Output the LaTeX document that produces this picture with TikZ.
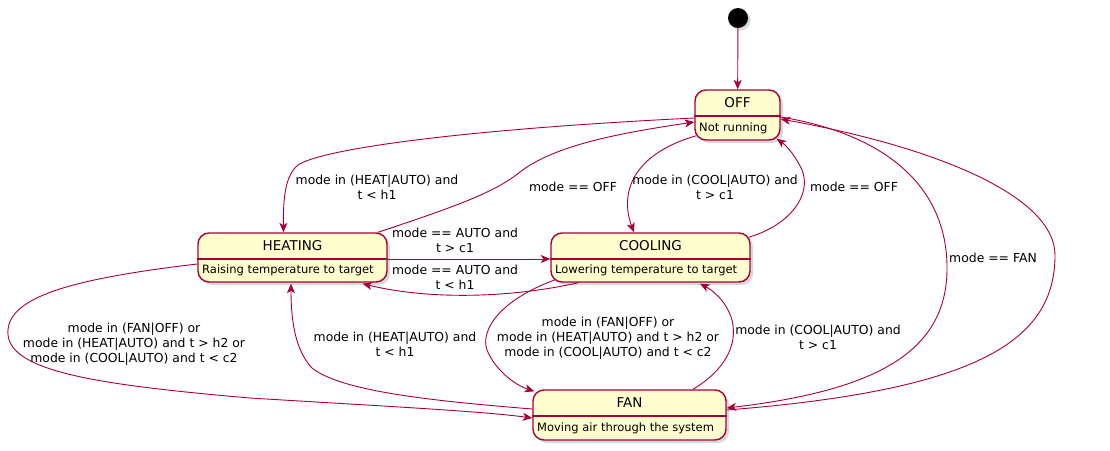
\documentclass[tikz,border=0pt]{standalone}
\usepackage{fontspec}
\setmainfont{DejaVu Sans}
\usetikzlibrary{arrows.meta,shadows,calc}
\definecolor{stfill}{HTML}{FEFECE}
\definecolor{stline}{HTML}{A80036}
\begin{document}
\begin{tikzpicture}[x=1pt,y=-1pt,
  state/.style={draw=stline, fill=stfill, line width=1.4pt, rounded corners=11pt,
    drop shadow={opacity=0.3, shadow xshift=3pt, shadow yshift=-3pt}, inner sep=0pt},
  divider/.style={draw=stline, line width=1.1pt},
  sttitle/.style={font=\fontsize{13.5}{15}\selectfont, inner sep=0pt},
  stdesc/.style={font=\fontsize{11.5}{13}\selectfont, inner sep=0pt, anchor=west},
  lbl/.style={font=\fontsize{12.4}{15}\selectfont, align=center, inner sep=0pt},
  tr/.style={draw=stline, line width=0.9pt, -{Stealth[length=9.5pt,width=8pt,inset=2.5pt]}}
]
\useasboundingbox (0,0) rectangle (1110,450);

% initial state
\node[circle, fill=black, minimum size=20pt, inner sep=0pt,
  drop shadow={opacity=0.3, shadow xshift=2.5pt, shadow yshift=-2.5pt}] (init) at (738,18) {};

% OFF
\node[state, minimum width=85pt, minimum height=50pt] (off) at (737.5,115) {};
\draw[divider] ([yshift=-1pt]off.west) -- ([yshift=-1pt]off.east);
\node[sttitle] (offT) at (737.5,103) {OFF};
\node[stdesc] (offD) at (699,128) {Not running};

% HEATING
\node[state, minimum width=189pt, minimum height=49pt] (heat) at (292.5,257.5) {};
\draw[divider] ([yshift=-1.5pt]heat.west) -- ([yshift=-1.5pt]heat.east);
\node[sttitle] (heatT) at (292.5,246) {HEATING};
\node[stdesc] (heatD) at (202,270.5) {Raising temperature to target};

% COOLING
\node[state, minimum width=199pt, minimum height=49pt] (cool) at (650.5,257.5) {};
\draw[divider] ([yshift=-1.5pt]cool.west) -- ([yshift=-1.5pt]cool.east);
\node[sttitle] (coolT) at (650.5,246) {COOLING};
\node[stdesc] (coolD) at (555,270.5) {Lowering temperature to target};

% FAN
\node[state, minimum width=193pt, minimum height=50pt] (fan) at (629.5,415) {};
\draw[divider] ([yshift=-1pt]fan.west) -- ([yshift=-1pt]fan.east);
\node[sttitle] (fanT) at (629.5,403) {FAN};
\node[stdesc] (fanD) at (537,428) {Moving air through the system};

% transitions
\draw[tr] (init) -- (off);

% OFF -> HEATING
\draw[tr] ([yshift=-3pt]off.west) .. controls (450,130) and (320,150) .. (298,165)
  .. controls (286,175) and (283,195) .. ([xshift=-9pt]heat.north);
% HEATING -> OFF
\draw[tr] ([xshift=85.5pt]heat.north) .. controls (460,205) and (495,192) .. (520,172)
  .. controls (555,145) and (620,133) .. ([yshift=-7pt]off.west);
% OFF -> COOLING
\draw[tr] ([xshift=2pt,yshift=5pt]off.south west) .. controls (630,155) and (620,195) .. ([xshift=-16.5pt]cool.north);
% COOLING -> OFF
\draw[tr] ([xshift=-2pt,yshift=-5pt]cool.north east) .. controls (790,225) and (812,195) .. (802,170)
  .. controls (796,157) and (788,147) .. ([xshift=-4pt,yshift=2pt]off.south east);
% HEATING -> COOLING
\draw[tr] ([yshift=-1.5pt]heat.east) -- ([yshift=-1.5pt]cool.west);
% COOLING -> HEATING
\draw[tr] ([xshift=-72pt]cool.south) .. controls (510,298) and (430,300) .. ([xshift=70pt,yshift=-1pt]heat.south);
% HEATING -> FAN
\draw[tr] ([yshift=-6.5pt]heat.west) .. controls (60,280) and (5,300) .. (8,335)
  .. controls (12,372) and (100,385) .. (250,398)
  .. controls (380,406) and (480,411) .. ([yshift=-3pt]fan.west);
% FAN -> HEATING
\draw[tr] ([yshift=6pt]fan.west) .. controls (420,400) and (340,390) .. (312,368)
  .. controls (295,350) and (291,320) .. ([xshift=-1.5pt,yshift=-1pt]heat.south);
% COOLING -> FAN
\draw[tr] ([xshift=5pt,yshift=3pt]cool.south west) .. controls (500,300) and (480,330) .. (487,350)
  .. controls (495,370) and (515,385) .. ([xshift=2pt,yshift=-2pt]fan.north west);
% FAN -> COOLING
\draw[tr] ([xshift=63.5pt]fan.north) .. controls (725,370) and (738,345) .. (732,320)
  .. controls (726,300) and (712,290) .. ([xshift=49.5pt,yshift=-1pt]cool.south);
% OFF -> FAN
\draw[tr] ([yshift=-2pt]off.east) .. controls (890,135) and (948,190) .. (947,270)
  .. controls (946,350) and (880,390) .. ([yshift=7pt]fan.east);
% FAN -> OFF
\draw[tr] ([yshift=5pt]fan.east) .. controls (980,390) and (1055,340) .. (1055,255)
  .. controls (1055,200) and (950,150) .. ([yshift=-4pt]off.east);

% labels
\node[lbl] (l1) at (377,187.5) {mode in (HEAT|AUTO) and\\t < h1};
\node[lbl] (l2) at (573,187) {mode == OFF};
\node[lbl] (l3) at (715,187.5) {mode in (COOL|AUTO) and\\t > c1};
\node[lbl] (l4) at (854,187) {mode == OFF};
\node[lbl] (l5) at (455,240.5) {mode == AUTO and\\t > c1};
\node[lbl] (l6) at (455,277.5) {mode == AUTO and\\t < h1};
\node[lbl] (l7) at (134,344) {mode in (FAN|OFF) or\\mode in (HEAT|AUTO) and t > h2 or\\mode in (COOL|AUTO) and t < c2};
\node[lbl] (l8) at (395,344) {mode in (HEAT|AUTO) and\\t < h1};
\node[lbl] (l9) at (608,338) {mode in (FAN|OFF) or\\mode in (HEAT|AUTO) and t > h2 or\\mode in (COOL|AUTO) and t < c2};
\node[lbl] (l10) at (818,337.5) {mode in (COOL|AUTO) and\\t > c1};
\node[lbl] (l11) at (993,258) {mode == FAN};
\end{tikzpicture}
\end{document}
